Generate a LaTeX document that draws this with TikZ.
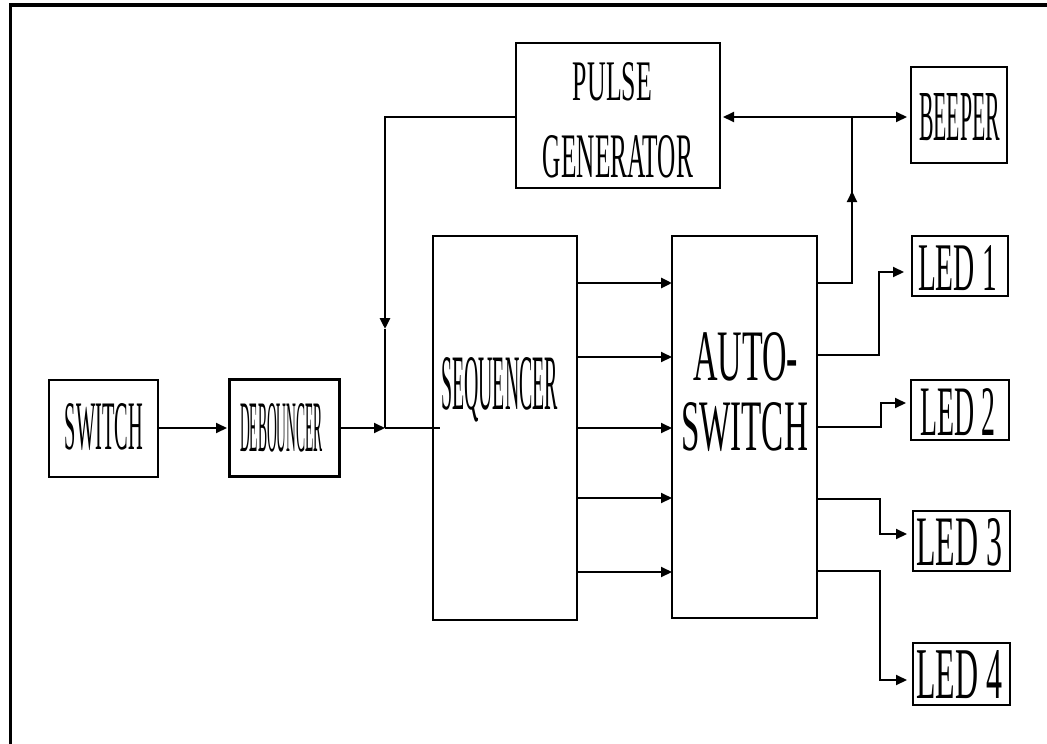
\documentclass[tikz,border=0pt]{standalone}
\usepackage{fontspec}
\setmainfont{Liberation Serif}
\newfontfamily\lblfont{Liberation Serif}
\usepackage{graphicx}
\usetikzlibrary{arrows.meta,calc}
\newcommand\fitlabel[3]{\resizebox{#1pt}{#2pt}{\lblfont #3}}
\begin{document}
\begin{tikzpicture}[x=1pt,y=-1pt,
  blk/.style={draw,line width=2pt,inner sep=0pt,outer sep=0pt},
  lbl/.style={inner sep=0pt,outer sep=0pt,anchor=base,font=\lblfont},
  wire/.style={line width=2pt},
  arr/.style={line width=2pt,-{Triangle[length=11pt,width=10pt]}},
  darr/.style={line width=2pt,{Triangle[length=11pt,width=10pt]}-{Triangle[length=11pt,width=10pt]}},
  frame/.style={line width=3.5pt}]
\useasboundingbox (0,0) rectangle (1047,744);
% frame
\draw[frame] (10.5,744) -- (10.5,5) -- (1047,5);
% boxes
\node[blk,minimum width=109pt,minimum height=97pt] (sw) at (103.5,428.5) {};
\node[blk,line width=3pt,minimum width=110pt,minimum height=97pt] (db) at (284,427.5) {};
\node[blk,minimum width=204pt,minimum height=145pt] (pg) at (618,115.5) {};
\node[blk,minimum width=96pt,minimum height=96pt] (bp) at (959,115) {};
\node[blk,minimum width=144pt,minimum height=384pt] (sq) at (505,428) {};
\node[blk,minimum width=145pt,minimum height=382pt] (as) at (744.5,427) {};
\node[blk,minimum width=96pt,minimum height=60pt] (l1) at (960,266) {};
\node[blk,minimum width=98pt,minimum height=60pt] (l2) at (960,410) {};
\node[blk,minimum width=97pt,minimum height=60pt] (l3) at (961.5,541) {};
\node[blk,minimum width=97pt,minimum height=62pt] (l4) at (961.5,674) {};
% labels
\node[lbl] (swt) at (104,449) {\fitlabel{78}{46}{SWITCH}};
\node[lbl] (dbt) at (281.5,451) {\fitlabel{83}{48}{DEBOUNCER}};
\node[lbl] (pgt1) at (612.5,100) {\fitlabel{79}{38}{PULSE}};
\node[lbl] (pgt2) at (618,177) {\fitlabel{150}{42}{GENERATOR}};
\node[lbl] (bpt) at (959.5,140) {\fitlabel{81}{47}{BEEPER}};
\node[lbl] (sqt) at (499.5,409) {\fitlabel{117}{52}{SEQUENCER}};
\node[lbl] (ast1) at (745.5,380) {\fitlabel{105}{48}{AUTO-}};
\node[lbl] (ast2) at (744.5,450) {\fitlabel{127}{48}{SWITCH}};
\node[lbl] (l1t) at (957.5,290) {\fitlabel{79}{45}{LED 1}};
\node[lbl] (l2t) at (957.5,435) {\fitlabel{75}{47}{LED 2}};
\node[lbl] (l3t) at (959,565) {\fitlabel{86}{47}{LED 3}};
\node[lbl] (l4t) at (959,698) {\fitlabel{86}{48}{LED 4}};
% coordinates
\coordinate (j1) at (385,428);
\coordinate (c1) at (385,222);
\coordinate (m1) at (385,329);
\coordinate (j2) at (852,117);
\coordinate (m2) at (852,191);
\coordinate (r1) at (0,283);
\coordinate (r2) at (0,357);
\coordinate (r3) at (0,428);
\coordinate (r4) at (0,498);
\coordinate (r5) at (0,572);
\coordinate (o1) at (879,355);
\coordinate (p1) at (879,272);
\coordinate (o2) at (881,427);
\coordinate (p2) at (881,403);
\coordinate (o3) at (880,499);
\coordinate (p3) at (880,534);
\coordinate (o4) at (880,571);
\coordinate (p4) at (880,680);
\coordinate (sqin) at (440,428);
% connectors
\draw[arr,shorten >=2pt] (sw.east |- r3) -- (db.west |- r3);
\draw[arr] (db.east |- j1) -- (j1);
\draw[wire] (j1) -- (sqin);
\draw[wire] (pg.west |- j2) -| (c1);
\draw[arr,line width=2.8pt] (c1) -- (m1);
\draw[wire,line width=2.8pt] (m1) -- (j1);
\draw[arr,line width=2.8pt] (sq.east |- r1) -- (as.west |- r1);
\draw[arr] (sq.east |- r2) -- (as.west |- r2);
\draw[arr] (sq.east |- r3) -- (as.west |- r3);
\draw[arr] (sq.east |- r4) -- (as.west |- r4);
\draw[arr] (sq.east |- r5) -- (as.west |- r5);
\draw[wire] (as.east |- r1) -| (m2);
\draw[arr] (j2 |- r1) -- (m2);
\draw[wire] (m2) -- (j2);
\draw[darr,shorten <=3pt,shorten >=4pt] (pg.east |- j2) -- (bp.west |- j2);
\draw[arr,shorten >=8pt] (as.east |- o1) -- (o1) -- (p1) -- (l1.west |- p1);
\draw[arr,shorten >=5pt] (as.east |- o2) -- (o2) -- (p2) -- (l2.west |- p2);
\draw[arr,shorten >=6pt] (as.east |- o3) -- (o3) -- (p3) -- (l3.west |- p3);
\draw[arr,shorten >=6pt] (as.east |- o4) -- (o4) -- (p4) -- (l4.west |- p4);
\end{tikzpicture}
\end{document}
